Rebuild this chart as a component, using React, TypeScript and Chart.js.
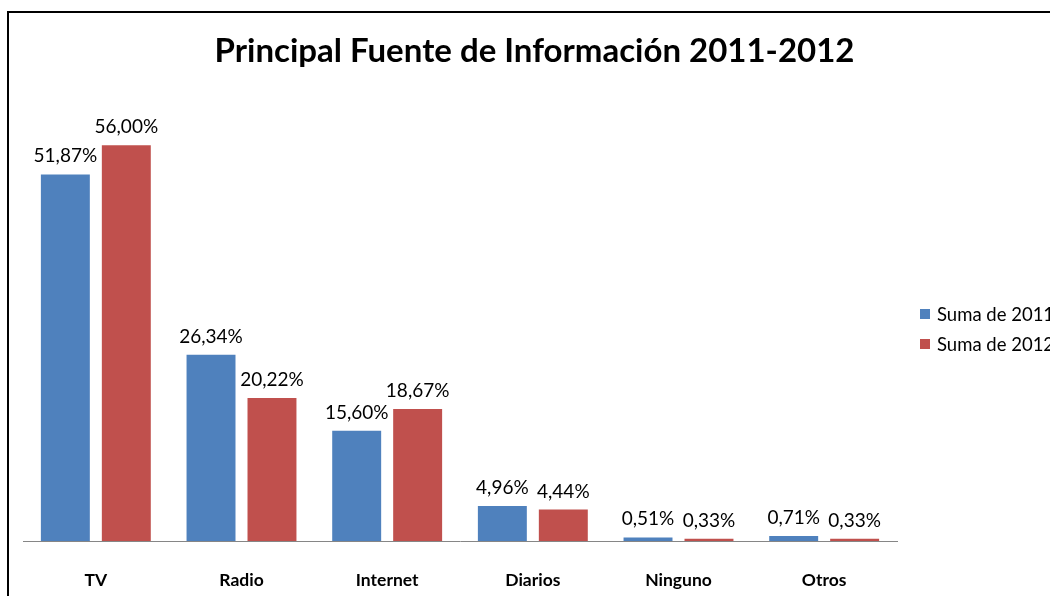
import React, { useEffect, useRef } from "react";
import { Chart, registerables } from "chart.js";

Chart.register(...registerables);

const categories = ["TV", "Radio", "Internet", "Diarios", "Ninguno", "Otros"];
const values2011 = [51.87, 26.34, 15.6, 4.96, 0.51, 0.71];
const values2012 = [56.0, 20.22, 18.67, 4.44, 0.33, 0.33];
const seriesLabels = ["Suma de 2011", "Suma de 2012"];
const seriesColors = ["#4F81BD", "#C0504D"];
const titleText = "Principal Fuente de Información 2011-2012";

const FONT = "Lato, 'Open Sans', sans-serif";

const fmt = (v: number) => v.toFixed(2).replace(".", ",") + "%";

const borderPlugin = {
  id: "frameBorder",
  beforeDraw(chart: any) {
    const ctx = chart.ctx;
    ctx.save();
    ctx.fillStyle = "#ffffff";
    ctx.fillRect(0, 0, chart.width, chart.height);
    ctx.fillStyle = "#000000";
    ctx.fillRect(7, 11, chart.width, 2);
    ctx.fillRect(7, 11, 2, chart.height);
    ctx.restore();
  },
};

const valueLabelPlugin = {
  id: "valueLabels",
  afterDatasetsDraw(chart: any) {
    const ctx = chart.ctx;
    ctx.save();
    ctx.font = `19px ${FONT}`;
    ctx.fillStyle = "#000000";
    ctx.textAlign = "center";
    ctx.textBaseline = "alphabetic";
    chart.data.datasets.forEach((ds: any, i: number) => {
      const meta = chart.getDatasetMeta(i);
      meta.data.forEach((bar: any, j: number) => {
        ctx.fillText(fmt(ds.data[j]), bar.x, bar.y - 12);
      });
    });
    ctx.restore();
  },
};

const sideLegendPlugin = {
  id: "sideLegend",
  afterDraw(chart: any) {
    const ctx = chart.ctx;
    const area = chart.chartArea;
    const midY = (area.top + area.bottom) / 2;
    ctx.save();
    ctx.font = `18.5px ${FONT}`;
    ctx.textAlign = "left";
    ctx.textBaseline = "middle";
    chart.data.datasets.forEach((ds: any, i: number) => {
      const y = midY + (i - 0.5) * 30;
      const x = area.right + 23;
      ctx.fillStyle = ds.backgroundColor;
      ctx.fillRect(x, y - 5, 10, 10);
      ctx.fillStyle = "#000000";
      ctx.fillText(ds.label, x + 17, y + 1);
    });
    ctx.restore();
  },
};

export default function App() {
  const ref = useRef<HTMLCanvasElement | null>(null);
  useEffect(() => {
    if (!ref.current) return;
    const chart = new Chart(ref.current, {
      type: "bar",
      data: {
        labels: categories,
        datasets: [
          {
            label: seriesLabels[0],
            data: values2011,
            backgroundColor: seriesColors[0],
            categoryPercentage: 0.837,
            barPercentage: 0.803,
          },
          {
            label: seriesLabels[1],
            data: values2012,
            backgroundColor: seriesColors[1],
            categoryPercentage: 0.837,
            barPercentage: 0.803,
          },
        ],
      },
      options: {
        animation: false,
        responsive: false,
        devicePixelRatio: 1,
        layout: { padding: { left: 23, right: 4, top: 0, bottom: 0 } },
        plugins: {
          legend: { display: false },
          tooltip: { enabled: false },
          title: {
            display: true,
            text: titleText,
            color: "#000000",
            font: { family: FONT, size: 33, weight: "bold" },
            padding: { top: 32, bottom: 45.4 },
          },
        },
        scales: {
          x: {
            grid: { display: false },
            border: { display: true, color: "#868686", width: 1 },
            ticks: {
              color: "#000000",
              font: { family: FONT, size: 17.5, weight: "bold" },
              padding: 21,
            },
            afterFit: (s: any) => {
              s.height = 55;
            },
          },
          y: {
            position: "right",
            min: 0,
            max: 60,
            grid: { display: false },
            border: { display: false },
            ticks: { display: false },
            afterFit: (s: any) => {
              s.width = 149;
            },
          },
        },
      },
      plugins: [borderPlugin, valueLabelPlugin, sideLegendPlugin],
    } as any);
    return () => chart.destroy();
  }, []);
  return (
    <canvas
      ref={ref}
      width={1050}
      height={596}
      style={{ position: "absolute", left: 0, top: 0, width: 1050, height: 596, display: "block" }}
    />
  );
}
